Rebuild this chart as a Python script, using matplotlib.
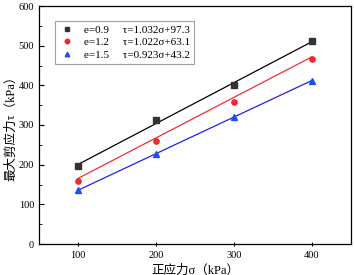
import matplotlib
matplotlib.use("Agg")
import matplotlib.pyplot as plt
import numpy as np
from matplotlib.ticker import MultipleLocator

plt.rcParams['font.family'] = ['Liberation Serif', 'Noto Sans CJK SC']

sigma = np.array([100, 200, 300, 400])
tau_09 = np.array([197, 312, 400, 511])
tau_12 = np.array([160, 259, 359, 467])
tau_15 = np.array([135, 227, 320, 412])

labels = ['e=0.9', 'e=1.2', 'e=1.5']
slopes = [1.032, 1.022, 0.923]
intercepts = [97.3, 63.1, 43.2]
colors = ['#333333', '#f0282d', '#1d4ef0']
markers = ['s', 'o', '^']
series = [tau_09, tau_12, tau_15]
line_colors = ['black', '#f03030', '#2020f0']

fig = plt.figure(figsize=(3.54, 2.75), dpi=100)
ax = fig.add_axes([39 / 354, 31 / 275, 312 / 354, 238 / 275])

for tau, lab, k, b, c, lc, m in zip(series, labels, slopes, intercepts, colors, line_colors, markers):
    fit = k * sigma + b
    ax.plot(sigma, fit, color=lc, lw=0.9, zorder=2)
    ax.plot(sigma, tau, ls='none', marker=m, color=c, ms=3.8, zorder=3,
            label=f'{lab}     τ={k:.3f}σ+{b}')

ax.set_xlim(50, 450)
ax.set_ylim(0, 600)
ax.xaxis.set_major_locator(MultipleLocator(100))
ax.yaxis.set_major_locator(MultipleLocator(100))
ax.yaxis.set_minor_locator(MultipleLocator(50))
ax.tick_params(which='both', direction='in', labelsize=7.5, top=False, right=False)
ax.tick_params(axis='x', which='major', direction='inout', length=3)
ax.tick_params(axis='y', which='major', length=3.5)
ax.tick_params(which='minor', length=2)
for s in ax.spines.values():
    s.set_linewidth(0.9)

ax.set_xlabel('正应力σ（kPa）', fontsize=9, labelpad=3)
ax.set_ylabel('最大剪应力τ（kPa）', fontsize=9, labelpad=1)

leg = ax.legend(loc='upper left', bbox_to_anchor=(0.035, 0.96), fontsize=8,
                frameon=True, fancybox=False, edgecolor='#888888',
                handletextpad=0.9, labelspacing=0.25, borderpad=0.35,
                handlelength=1.3, markerscale=0.85)
leg.get_frame().set_linewidth(0.8)

fig.savefig('out.png', dpi=100)
